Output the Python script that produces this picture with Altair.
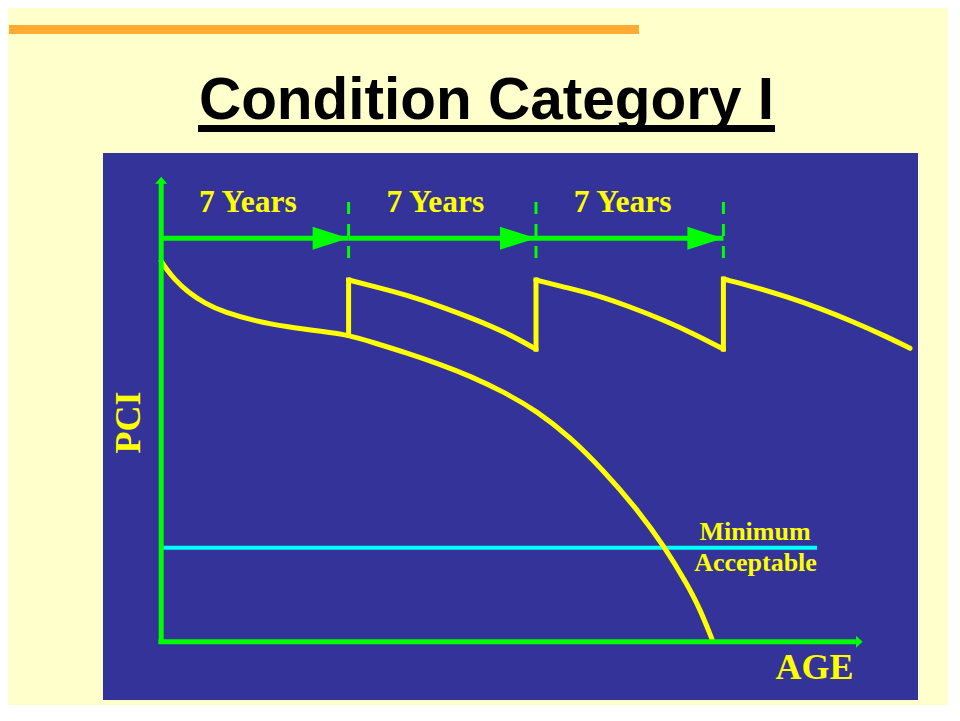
import altair as alt
import pandas as pd

# ---------------- data (AGE in years, PCI in points) ----------------
years = [0, 7, 14, 21]                      # treatment interval boundaries
interval_labels = ["7 Years", "7 Years", "7 Years"]

# "do nothing" deterioration curve
decline_age = [0, 0.14, 0.515, 1.0, 1.636, 2.383, 3.504, 4.736, 6.007, 7.0, 7.912, 9.183,
               10.414, 11.535, 12.768, 14.038, 15.271, 16.503, 17.773, 18.819, 19.64,
               20.126, 20.574]
decline_pci = [100, 98.42, 95.0, 91.84, 88.82, 86.45, 84.21, 82.63, 81.45, 80.53, 78.55,
               75.79, 72.82, 69.74, 65.66, 60.53, 53.68, 45.0, 34.74, 24.61, 15.0, 8.42, 0.5]

# treated (every 7 years) saw-tooth segments
rehab1_age = [7.0, 7.91, 9.18, 10.41, 11.65, 12.92, 14.0]
rehab1_pci = [95.0, 93.4, 91.05, 88.15, 84.85, 81.05, 76.8]
rehab2_age = [14.0, 15.02, 16.27, 17.51, 18.76, 20.0, 21.0]
rehab2_pci = [95.0, 93.2, 91.05, 87.95, 84.5, 80.5, 76.8]
rehab3_age = [21.0, 22.12, 23.36, 24.61, 25.85, 27.1, 27.97]
rehab3_pci = [95.26, 93.24, 90.6, 87.55, 84.03, 80.08, 77.03]

jump_age = [7, 14, 21]
jump_from = [80.53, 76.8, 76.8]
jump_to = [95.0, 95.0, 95.26]

min_acceptable_pci = 24.55
min_line_end_age = 24.5
interval_arrow_pci = 106
axis_top_pci = 122.2
axis_end_age = 26.2

# ---------------- styling ----------------
BLUE = "#333399"
YELLOW = "#FFFF00"
GREEN = "#00FF00"
CYAN = "#00FFFF"
BG = "#FFFFCC"
ORANGE = "#FFAA33"
SERIF = "Liberation Serif"

X = alt.Scale(domain=[-2.174, 28.269], nice=False, zero=False)
Y = alt.Scale(domain=[-15.526, 128.421], nice=False, zero=False)

def xq(f="age"):
    return alt.X(f"{f}:Q", scale=X, axis=None)

def yq(f="pci"):
    return alt.Y(f"{f}:Q", scale=Y, axis=None)

# ---------------- tables ----------------
decline_df = pd.DataFrame({"age": decline_age, "pci": decline_pci})
decline_df["i"] = range(len(decline_df))

rows = []
for seg, (a, p) in enumerate([(rehab1_age, rehab1_pci), (rehab2_age, rehab2_pci),
                              (rehab3_age, rehab3_pci)]):
    for i, (aa, pp) in enumerate(zip(a, p)):
        rows.append({"seg": seg, "i": i, "age": aa, "pci": pp})
rehab_df = pd.DataFrame(rows)

jump_df = pd.DataFrame({"age": jump_age, "lo": jump_from, "hi": jump_to})

intervals_df = pd.DataFrame({
    "start": years[:-1],
    "end": years[1:],
    "label": interval_labels,
})
intervals_df["mid"] = (intervals_df["start"] + intervals_df["end"]) / 2
intervals_df["pci"] = interval_arrow_pci

marks_df = pd.DataFrame({"age": years[1:]})

# ---------------- layers ----------------
# green interval arrows
interval_lines = alt.Chart(intervals_df).mark_rule(color=GREEN, strokeWidth=5).encode(
    x=xq("start"), x2="end:Q", y=yq("pci"))
interval_heads = alt.Chart(intervals_df).mark_point(
    shape="M 0 0 L -2 -0.64 L -2 0.64 Z", size=1296, filled=True, color=GREEN,
    opacity=1, strokeWidth=0).encode(x=xq("end"), y=yq("pci"))
interval_text = alt.Chart(intervals_df).mark_text(
    font=SERIF, fontWeight="bold", fontSize=31.5, color=YELLOW, dx=-7,
    baseline="alphabetic", align="center").encode(
    x=xq("mid"), y=alt.value(59.3), text="label:N")

dash_df = marks_df.assign(top=115.5, bot=99.7)
dashes = alt.Chart(dash_df).mark_rule(color=GREEN, strokeWidth=3, strokeDash=[12, 10]).encode(
    x=xq("age"), y=yq("top"), y2="bot:Q")

# axes (green arrows)
axes_df = pd.DataFrame({"x0": [0, -0.1], "x1": [0, axis_end_age - 0.25],
                        "y0": [-0.7, -0.2], "y1": [axis_top_pci - 1.6, -0.2]})
axes_lines = alt.Chart(axes_df).mark_rule(color=GREEN, strokeWidth=5).encode(
    x=xq("x0"), x2="x1:Q", y=yq("y0"), y2="y1:Q")
yhead = alt.Chart(pd.DataFrame({"age": [0], "pci": [axis_top_pci]})).mark_point(
    shape="M 0 0 L 1 1.2 L -1 1.2 Z", size=144, filled=True, color=GREEN,
    opacity=1, strokeWidth=0).encode(x=xq(), y=yq())
xhead = alt.Chart(pd.DataFrame({"age": [axis_end_age], "pci": [-0.2]})).mark_point(
    shape="M 0 0 L -1.1 -1 L -1.1 1 Z", size=144, filled=True, color=GREEN,
    opacity=1, strokeWidth=0).encode(x=xq(), y=yq())

# minimum acceptable line
min_df = pd.DataFrame({"a0": [0.07], "a1": [min_line_end_age], "pci": [min_acceptable_pci]})
min_line = alt.Chart(min_df).mark_rule(color=CYAN, strokeWidth=4).encode(
    x=xq("a0"), x2="a1:Q", y=yq("pci"))

# curves
decline = alt.Chart(decline_df).mark_line(
    color=YELLOW, strokeWidth=5, strokeCap="round", interpolate="basis").encode(
    x=xq(), y=yq(), order="i:Q")
rehab = alt.Chart(rehab_df).mark_line(
    color=YELLOW, strokeWidth=5, strokeCap="round", interpolate="basis").encode(
    x=xq(), y=yq(), detail="seg:N", order="i:Q")
jumps = alt.Chart(jump_df).mark_rule(color=YELLOW, strokeWidth=5, strokeCap="square").encode(
    x=xq(), y=yq("lo"), y2="hi:Q")

# text labels
def label(txt, px, py, size, **kw):
    return alt.Chart(pd.DataFrame({"t": [txt]})).mark_text(
        fontSize=size, baseline="alphabetic", align="center", **kw).encode(
        text="t:N", x=alt.value(px), y=alt.value(py))

pci_title = label("PCI", 37, 269.5, 36, font=SERIF, fontWeight="bold", color=YELLOW, angle=270)
age_title = label("AGE", 711.5, 526.3, 36, font=SERIF, fontWeight="bold", color=YELLOW)
min_text1 = label("Minimum", 652, 387, 26, font=SERIF, fontWeight="bold", color=YELLOW)
min_text2 = label("Acceptable", 652.5, 417.7, 26, font=SERIF, fontWeight="bold", color=YELLOW)

title = label("Condition Category I", 383.5, -34, 58.5, font="Liberation Sans",
              fontWeight="bold", color="#000000")
underline = alt.Chart(pd.DataFrame({"a": [0]})).mark_rule(color="#000000", strokeWidth=7).encode(
    x=alt.value(95), x2=alt.value(672), y=alt.value(-24.5))
orange = alt.Chart(pd.DataFrame({"a": [0]})).mark_rule(color=ORANGE, strokeWidth=9).encode(
    x=alt.value(-94), x2=alt.value(536), y=alt.value(-123.5))

chart = alt.layer(
    orange, underline, title,
    min_line, interval_lines, interval_heads, dashes,
    decline, rehab, jumps,
    axes_lines, yhead, xhead,
    interval_text, pci_title, age_title, min_text1, min_text2,
).properties(
    width=815, height=547,
    autosize=alt.AutoSizeParams(type="none"),
    padding={"left": 95, "top": 145, "right": 30, "bottom": 5},
    background=BG,
).configure_view(fill=BLUE, strokeWidth=0)

chart.save("out.html", embed_options={"renderer": "svg", "actions": False})
